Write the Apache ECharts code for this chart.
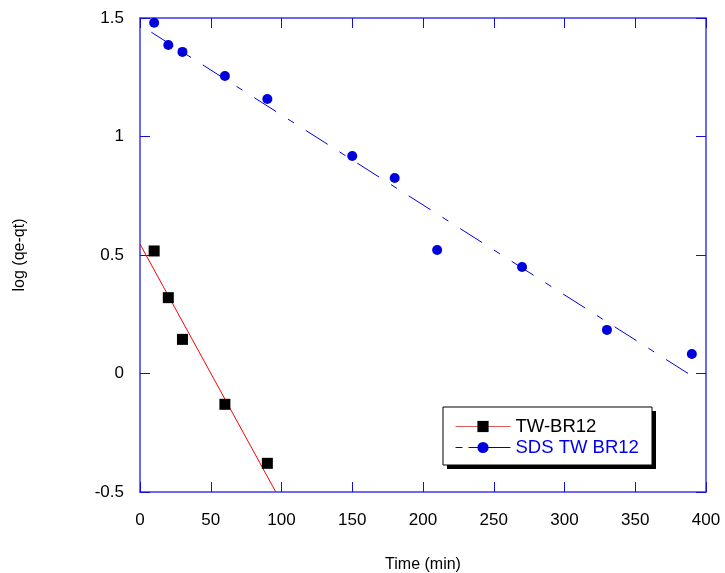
<!DOCTYPE html>
<html>
<head>
<meta charset="utf-8" />
<script src="https://cdn.jsdelivr.net/npm/echarts@6/dist/echarts.min.js"></script>
<style>
  html, body { margin: 0; padding: 0; background: #fff; }
  #chart { width: 725px; height: 573px; }
</style>
</head>
<body>
<div id="chart"></div>
<script>
var twTime = [10, 20, 30, 60, 90];
var twLog  = [0.517, 0.32, 0.144, -0.13, -0.379];

var sdsTime = [10, 20, 30, 60, 90, 150, 180, 210, 270, 330, 390];
var sdsLog  = [1.48, 1.386, 1.357, 1.255, 1.158, 0.918, 0.825, 0.521, 0.449, 0.184, 0.082];

// fitted lines, end points in data units
var twFit  = [[0, 0.546], [96, -0.5]];
var sdsFit = [[8, 1.44], [390, -0.01]];

function pairs(xs, ys) {
    return xs.map(function (x, i) { return [x, ys[i]]; });
}

var axisBlue = '#3a3aee';
var tickBlue = '#1010dd';
var font = 'Liberation Sans, Arial, sans-serif';

function frameAxis(extra) {
    var a = {
        type: 'value',
        axisLine: { onZero: false, lineStyle: { color: axisBlue, width: 1.5 } },
        axisTick: { inside: true, length: 10, lineStyle: { color: tickBlue } },
        axisLabel: { show: false },
        splitLine: { show: false }
    };
    for (var k in extra) a[k] = extra[k];
    return a;
}

var chart = echarts.init(document.getElementById('chart'));
chart.setOption({
    animation: false,
    backgroundColor: '#fff',
    grid: { left: 140, top: 18, right: 19, bottom: 81, outerBoundsMode: 'none', containLabel: false },
    // legend box with its drop shadow
    graphic: [
        { type: 'rect', shape: { x: 447, y: 411, width: 209, height: 58 }, style: { fill: '#000' }, z: 5 },
        { type: 'rect', shape: { x: 443, y: 407, width: 209, height: 58 }, style: { fill: '#fff', stroke: '#000', lineWidth: 1 }, z: 6 }
    ],
    legend: {
        orient: 'vertical',
        left: 443,
        top: 407,
        padding: [10, 10, 11, 12],
        itemWidth: 55,
        itemHeight: 14,
        itemGap: 2,
        z: 10,
        textStyle: { fontFamily: font, fontSize: 18.5, color: '#000' },
        data: [
            { name: 'TW-BR12', lineStyle: { color: '#e05a5a', width: 1, opacity: 1 } },
            { name: 'SDS TW BR12', lineStyle: { color: '#0000cc', width: 1, opacity: 1, type: [7, 6, 50, 0] },
              textStyle: { color: '#0000ee' } }
        ]
    },
    xAxis: [
        frameAxis({
            min: 0, max: 400, interval: 50, position: 'bottom',
            name: 'Time (min)', nameLocation: 'middle', nameGap: 65,
            nameTextStyle: { fontFamily: font, fontSize: 16, color: '#000' },
            axisLabel: { fontFamily: font, fontSize: 17, color: '#000', margin: 20 }
        }),
        frameAxis({ min: 0, max: 400, interval: 50, position: 'top' })
    ],
    yAxis: [
        frameAxis({
            min: -0.5, max: 1.5, interval: 0.5, position: 'left',
            name: 'log (qe-qt)', nameLocation: 'middle', nameGap: 112,
            nameTextStyle: { fontFamily: font, fontSize: 16, color: '#000' },
            axisLabel: { fontFamily: font, fontSize: 17, color: '#000', margin: 16 }
        }),
        frameAxis({ min: -0.5, max: 1.5, interval: 0.5, position: 'right' })
    ],
    series: [{
        name: 'tw fit', type: 'line', data: twFit, symbol: 'none',
        lineStyle: { color: '#ff0000', width: 1 }, silent: true, z: 2
    }, {
        name: 'sds fit', type: 'line', data: sdsFit, symbol: 'none',
        lineStyle: { color: '#0000dd', width: 1, type: [26, 14, 7, 14] }, silent: true, z: 2
    }, {
        name: 'TW-BR12', type: 'line', data: pairs(twTime, twLog),
        symbol: 'rect', symbolSize: 11, showSymbol: true,
        itemStyle: { color: '#000' },
        lineStyle: { opacity: 0 }, z: 3
    }, {
        name: 'SDS TW BR12', type: 'line', data: pairs(sdsTime, sdsLog),
        symbol: 'circle', symbolSize: 10, showSymbol: true,
        itemStyle: { color: '#0000dd' },
        lineStyle: { opacity: 0 }, z: 3
    }]
});
</script>
</body>
</html>
